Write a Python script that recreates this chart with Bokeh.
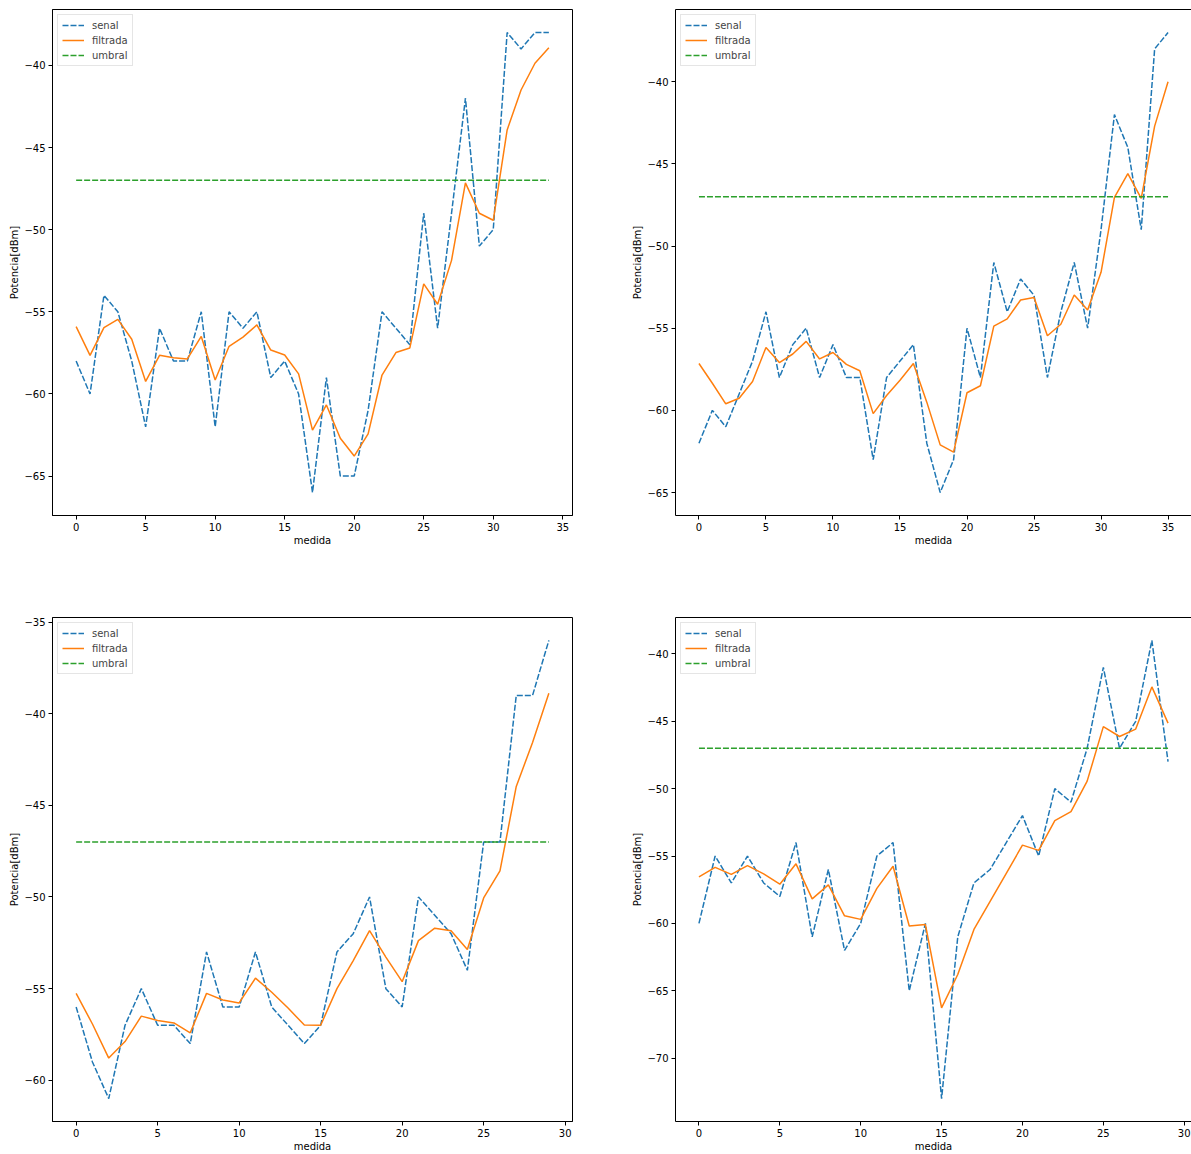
import math
from bokeh.plotting import figure
from bokeh.layouts import gridplot
from bokeh.models import Range1d, FixedTicker, Legend, LegendItem, LinearAxis
from bokeh.embed import file_html
from bokeh.resources import INLINE

# ---------------- data ----------------
senal1 = [-58, -60, -54, -55, -58, -62, -56, -58, -58, -55, -62, -55, -56, -55, -59, -58, -60, -66,
          -59, -65, -65, -61, -55, -56, -57, -49, -56, -49, -42, -51, -50, -38, -39, -38, -38]
filtrada1 = [-55.9, -57.65, -55.96, -55.46, -56.67, -59.24, -57.65, -57.8, -57.87, -56.5, -59.15,
             -57.1, -56.54, -55.8, -57.33, -57.63, -58.78, -62.2, -60.67, -62.7, -63.78, -62.43,
             -58.85, -57.48, -57.2, -53.3, -54.54, -51.87, -47.15, -49.0, -49.43, -43.93, -41.5,
             -39.87, -38.93]

senal2 = [-62, -60, -61, -59, -57, -54, -58, -56, -55, -58, -56, -58, -58, -63, -58, -57, -56, -62,
          -65, -63, -55, -58, -51, -54, -52, -53, -58, -54, -51, -55, -49, -42, -44, -49, -38, -37]
filtrada2 = [-57.15, -58.35, -59.6, -59.26, -58.24, -56.17, -57.09, -56.57, -55.8, -56.87, -56.48,
             -57.2, -57.59, -60.2, -59.1, -58.17, -57.15, -59.5, -62.1, -62.54, -58.93, -58.5,
             -54.87, -54.43, -53.28, -53.13, -55.46, -54.76, -52.98, -53.89, -51.6, -47.04,
             -45.59, -47.1, -42.7, -40.0]

senal3 = [-56, -59, -61, -57, -55, -57, -57, -58, -53, -56, -56, -53, -56, -57, -58, -57, -53, -52,
          -50, -55, -56, -50, -51, -52, -54, -47, -47, -39, -39, -36]
filtrada3 = [-55.26, -56.93, -58.79, -57.89, -56.5, -56.74, -56.87, -57.41, -55.26, -55.62, -55.78,
             -54.43, -55.2, -56.06, -56.99, -57.0, -55.0, -53.47, -51.84, -53.28, -54.62, -52.38,
             -51.7, -51.84, -52.86, -50.05, -48.58, -43.97, -41.57, -38.88]

senal4 = [-60, -55, -57, -55, -57, -58, -54, -61, -56, -62, -60, -55, -54, -65, -60, -73, -61, -57,
          -56, -54, -52, -55, -50, -51, -47, -41, -47, -45, -39, -48]
filtrada4 = [-56.54, -55.84, -56.36, -55.71, -56.33, -57.09, -55.58, -58.18, -57.14, -59.44, -59.7,
             -57.4, -55.76, -60.19, -60.09, -66.27, -63.79, -60.45, -58.37, -56.28, -54.19, -54.58,
             -52.37, -51.71, -49.44, -45.4, -46.13, -45.58, -42.45, -45.14]

umbral = -47

series = [(senal1, filtrada1), (senal2, filtrada2), (senal3, filtrada3), (senal4, filtrada4)]

# layout: (width, height, left, right, top, bottom, cut_right)
dims = [
    (600, 560, 52, 28, 9, 45, False),
    (591, 560, 75, 0, 9, 45, True),
    (600, 594, 52, 28, 57, 32, False),
    (591, 594, 75, 0, 57, 32, True),
]

BLUE = "#1f77b4"
ORANGE = "#ff7f0e"
GREEN = "#2ca02c"
FONT = "DejaVu Sans"


def lab(v):
    return str(int(v)).replace("-", "\u2212")


def style_axis(ax):
    ax.axis_line_color = "black"
    ax.axis_line_width = 1
    ax.major_tick_line_color = "black"
    ax.major_tick_out = 4
    ax.major_tick_in = 0
    ax.minor_tick_line_color = None
    ax.major_label_text_font = FONT
    ax.major_label_text_font_size = "10px"
    ax.major_label_text_color = "black"
    ax.major_label_standoff = 3
    ax.axis_label_text_font = FONT
    ax.axis_label_text_font_size = "10px"
    ax.axis_label_text_font_style = "normal"
    ax.axis_label_text_color = "black"
    ax.axis_label_standoff = 1


def make(senal, filtrada, d):
    w, h, bl, br, bt, bb, cut = d
    n = len(senal)
    xs = list(range(n))
    thr = [umbral] * n
    allv = senal + filtrada + thr
    lo, hi = min(allv), max(allv)
    pad = (hi - lo) * 0.05
    xpad = (n - 1) * 0.05
    p = figure(width=w, height=h, output_backend="svg", toolbar_location=None,
               x_range=Range1d(-xpad, n - 1 + xpad), y_range=Range1d(lo - pad, hi + pad),
               min_border_left=bl, min_border_right=br, min_border_top=bt, min_border_bottom=bb)
    p.grid.visible = False
    p.background_fill_color = "white"
    p.border_fill_color = "white"

    xax = p.below[0]
    yax = p.left[0]
    yt = [v for v in range(int(math.floor(lo - pad)) - 5, int(math.ceil(hi + pad)) + 5)
          if v % 5 == 0 and lo - pad <= v <= hi + pad]
    xt = [v for v in range(0, n + 5) if v % 5 == 0 and v <= n - 1 + xpad]
    yax.ticker = FixedTicker(ticks=yt)
    xax.ticker = FixedTicker(ticks=xt)
    style_axis(xax)
    style_axis(yax)
    yax.major_label_overrides = {v: lab(v) for v in yt}
    xax.major_label_overrides = {v: lab(v) for v in xt}
    xax.axis_label = "medida"
    yax.axis_label = "Potencia[dBm]"

    r1 = p.line(xs, senal, line_color=BLUE, line_width=1.5, line_dash="6 2")
    r2 = p.line(xs, filtrada, line_color=ORANGE, line_width=1.5)
    r3 = p.line(xs, thr, line_color=GREEN, line_width=1.5, line_dash="6 2")

    leg = Legend(items=[LegendItem(label="senal", renderers=[r1]),
                        LegendItem(label="filtrada", renderers=[r2]),
                        LegendItem(label="umbral", renderers=[r3])],
                 location="top_left")
    leg.label_text_font = FONT
    leg.label_text_font_size = "10px"
    leg.label_height = 12
    leg.glyph_height = 12
    leg.glyph_width = 22
    leg.spacing = 3
    leg.padding = 4
    leg.margin = 5
    leg.label_standoff = 8
    leg.border_line_color = "#cccccc"
    leg.border_line_width = 1
    leg.background_fill_alpha = 0.8
    p.add_layout(leg)

    if cut:
        # the right edge of this axes lies outside the picture: draw only top/left/bottom
        p.outline_line_color = None
        top = LinearAxis(ticker=FixedTicker(ticks=[]), axis_line_color="black",
                         major_label_text_font_size="0px", major_label_standoff=0,
                         major_tick_line_color=None, minor_tick_line_color=None,
                         major_tick_out=0, major_tick_in=0, axis_label=None)
        p.add_layout(top, "above")
    else:
        p.outline_line_color = "black"
        p.outline_line_width = 1
    return p


figs = [make(s, f, d) for (s, f), d in zip(series, dims)]
grid = gridplot([[figs[0], figs[1]], [figs[2], figs[3]]], toolbar_location=None)

open("out.html", "w").write(file_html(grid, INLINE))
